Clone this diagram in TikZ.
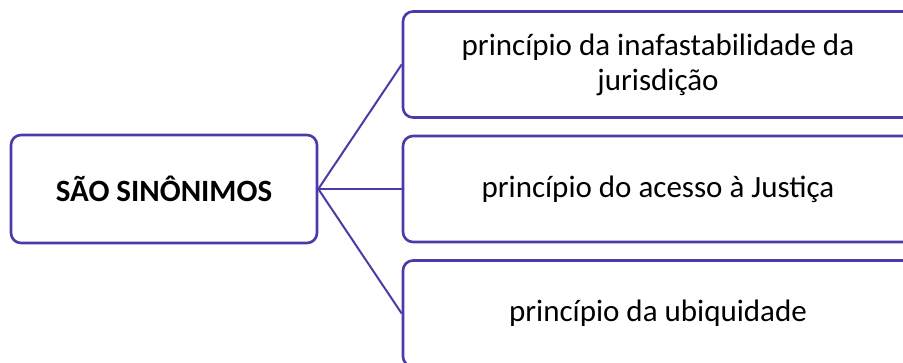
\documentclass[tikz,border=0pt]{standalone}
\usepackage{fontspec}
\setmainfont{Carlito}
\usetikzlibrary{shapes,arrows,positioning}
\definecolor{roxo}{RGB}{75,58,168}

\begin{document}
\begin{tikzpicture}[x=1pt,y=1pt,grow'=right,level 1/.style={sibling distance=124.5pt, level distance=494pt},
      edge from parent/.style={draw=roxo, line width=2pt},
      edge from parent path={(\tikzparentnode.east) -- (\tikzchildnode.west)},
      every node/.style={font=\fontsize{31}{35}\selectfont, rectangle, rounded corners=10pt, draw=roxo, line width=2.6pt, align=center, inner sep=0pt, minimum height=106pt, minimum width=510pt}]
      \useasboundingbox (0,0) rectangle (903,363);
      \clip (0,0) rectangle (903,363);
      \node[minimum width=306pt, minimum height=108pt, font=\fontsize{31}{35}\selectfont\bfseries] (a) at (164,174) {SÃO SINÔNIMOS}
      child{ node (b) {princípio da inafastabilidade da\\jurisdição} }
      child{ node (c) {princípio do acesso à Justiça} }
      child{ node (d) {princípio da ubiquidade} }
      ;
\end{tikzpicture}
\end{document}
